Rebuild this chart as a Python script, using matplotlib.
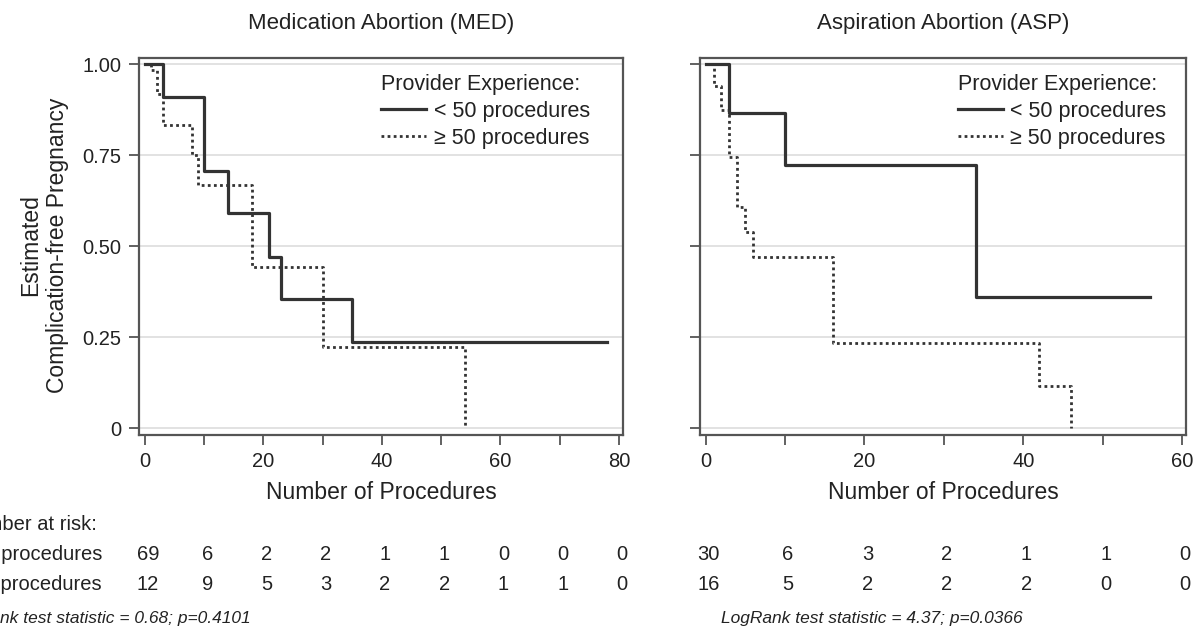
import numpy as np
import matplotlib
matplotlib.use('Agg')
from matplotlib import pyplot as plt

plt.rcParams['font.family'] = ['Liberation Sans', 'DejaVu Sans']

# Kaplan-Meier curves
med_lt50_t = [0, 3, 10, 14, 21, 23, 35, 78]
med_lt50_s = [1.0, 0.909, 0.707, 0.590, 0.471, 0.354, 0.236, 0.236]
med_ge50_t = [0, 1, 2, 3, 8, 9, 18, 30, 54]
med_ge50_s = [1.0, 0.985, 0.917, 0.833, 0.75, 0.667, 0.444, 0.222, 0.0]

asp_lt50_t = [0, 3, 10, 34, 56]
asp_lt50_s = [1.0, 0.867, 0.722, 0.361, 0.361]
asp_ge50_t = [0, 1, 2, 3, 4, 5, 6, 16, 42, 46]
asp_ge50_s = [1.0, 0.94, 0.875, 0.745, 0.607, 0.538, 0.469, 0.234, 0.117, 0.0]

# number at risk
med_ticks = [0, 10, 20, 30, 40, 50, 60, 70, 80]
med_risk_lt50 = [69, 6, 2, 2, 1, 1, 0, 0, 0]
med_risk_ge50 = [12, 9, 5, 3, 2, 2, 1, 1, 0]
asp_ticks = [0, 10, 20, 30, 40, 50, 60]
asp_risk_lt50 = [30, 6, 3, 2, 1, 1, 0]
asp_risk_ge50 = [16, 5, 2, 2, 2, 0, 0]

yticks = [0, 0.25, 0.50, 0.75, 1.00]
ytick_labels = ['0', '0.25', '0.50', '0.75', '1.00']

W, H = 1196, 636
fig = plt.figure(figsize=(W / 100, H / 100), dpi=100)
ax1 = fig.add_axes([139 / W, 1 - 435 / H, 484 / W, 377 / H])
ax2 = fig.add_axes([700 / W, 1 - 435 / H, 486 / W, 377 / H])

ink = '#222222'
frame = '#555555'


def style(ax, xmax, xt, title):
    ax.set_ylim(-0.019, 1.017)
    ax.set_yticks(yticks)
    ax.grid(axis='y', color='#dddddd', linewidth=1.2)
    ax.set_axisbelow(True)
    ax.set_xticks(xt)
    ax.set_xticks(np.arange(0, xmax + 1, 10), minor=True)
    ax.tick_params(which='both', direction='out', length=7, width=1.3, color=frame,
                   labelsize=14.5, labelcolor=ink, pad=5.5)
    for s in ax.spines.values():
        s.set_color(frame)
        s.set_linewidth(1.6)
    ax.set_xlabel('Number of Procedures', fontsize=16.5, color=ink, labelpad=7)
    ax.set_title(title, fontsize=16, color=ink, pad=21)


ax1.step(med_lt50_t, med_lt50_s, where='post', color='#333333', lw=2.3,
         label='< 50 procedures')
ax1.step(med_ge50_t, med_ge50_s, where='post', color='#333333', lw=2.0,
         linestyle=(0, (1, 1.2)), label='\u2265 50 procedures')
ax1.set_xlim(-1.0, 80.7)
style(ax1, 80, [0, 20, 40, 60, 80], 'Medication Abortion (MED)')
ax1.set_yticklabels(ytick_labels)

ax2.step(asp_lt50_t, asp_lt50_s, where='post', color='#333333', lw=2.3,
         label='< 50 procedures')
ax2.step(asp_ge50_t, asp_ge50_s, where='post', color='#333333', lw=2.0,
         linestyle=(0, (1, 1.2)), label='\u2265 50 procedures')
ax2.set_xlim(-0.7, 60.5)
style(ax2, 60, [0, 20, 40, 60], 'Aspiration Abortion (ASP)')
ax2.set_yticklabels([])

for ax, xa in [(ax1, 0.50), (ax2, 0.53)]:
    leg = ax.legend(title='Provider Experience:', loc='upper left',
                    bbox_to_anchor=(xa, 0.958), frameon=False, fontsize=15.5,
                    title_fontsize=15.5, alignment='left', handlelength=2.1,
                    handletextpad=0.35, labelspacing=0.28, borderpad=0,
                    borderaxespad=0)
    for t in leg.get_texts():
        t.set_color(ink)
    leg.get_title().set_color(ink)

fig.text(44 / W, 1 - 245 / H, 'Estimated\nComplication-free Pregnancy',
         rotation=90, ha='center', va='center', fontsize=16.5, color=ink,
         multialignment='center', linespacing=1.2)

# number at risk table
fs = 14.5
fig.text(-40 / W, 1 - 525 / H, 'Number at risk:', ha='left', va='center',
         fontsize=fs, color=ink)
fig.text(-44 / W, 1 - 554 / H, '< 50 procedures', ha='left', va='center',
         fontsize=fs, color=ink)
fig.text(-44 / W, 1 - 584 / H, '\u2265 50 procedures', ha='left', va='center',
         fontsize=fs, color=ink)

for ax, xt, r1, r2 in [(ax1, med_ticks, med_risk_lt50, med_risk_ge50),
                       (ax2, asp_ticks, asp_risk_lt50, asp_risk_ge50)]:
    for t, a, b in zip(xt, r1, r2):
        xf = fig.transFigure.inverted().transform(ax.transData.transform((t, 0)))[0]
        fig.text(xf + 3 / W, 1 - 554 / H, str(a), ha='center', va='center',
                 fontsize=fs, color=ink)
        fig.text(xf + 3 / W, 1 - 584 / H, str(b), ha='center', va='center',
                 fontsize=fs, color=ink)

fig.text(-51 / W, 1 - 619 / H, 'LogRank test statistic = 0.68; p=0.4101',
         ha='left', va='center', fontsize=12.5, style='italic', color=ink)
fig.text(721 / W, 1 - 619 / H, 'LogRank test statistic = 4.37; p=0.0366',
         ha='left', va='center', fontsize=12.5, style='italic', color=ink)

plt.savefig('out.png', dpi=100)
